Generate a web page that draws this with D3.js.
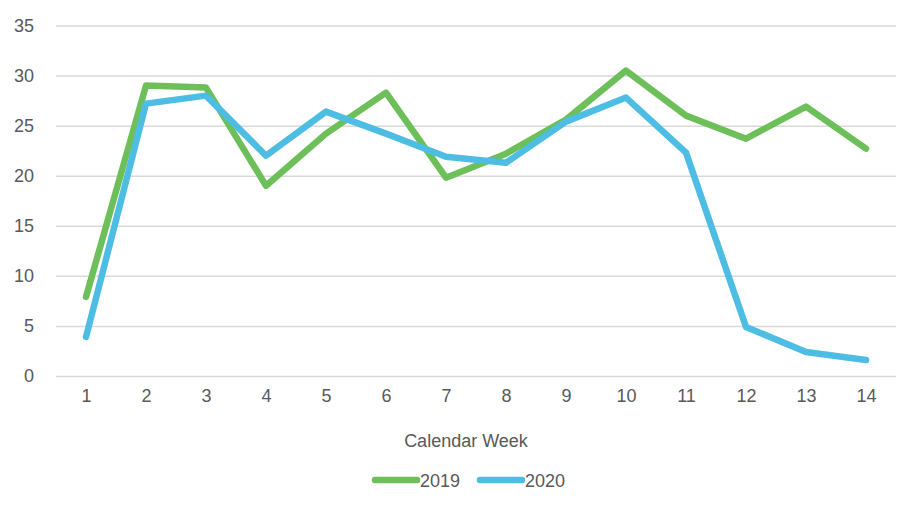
<!DOCTYPE html>
<html>
<head>
<meta charset="utf-8">
<script src="https://cdn.jsdelivr.net/npm/d3@7"></script>
<style>
  body { margin: 0; background: #fff; }
  svg text { font-family: "Liberation Sans", Arial, sans-serif; fill: #595959; }
</style>
</head>
<body>
<div id="wrapper"></div>
<script>
// data
const weeks = [1, 2, 3, 4, 5, 6, 7, 8, 9, 10, 11, 12, 13, 14];
const values2019 = [7.9, 29.0, 28.8, 19.0, 24.2, 28.3, 19.8, 22.2, 25.6, 30.5, 26.0, 23.7, 26.9, 22.7];
const values2020 = [3.9, 27.2, 28.0, 22.0, 26.4, 24.2, 21.9, 21.3, 25.4, 27.8, 22.3, 4.9, 2.4, 1.6];
const yTicks = [0, 5, 10, 15, 20, 25, 30, 35];
const seriesNames = ["2019", "2020"];
const seriesColors = ["#6dbf59", "#4dbde4"];

function drawChart() {
    const dimensions = {
        width: 919,
        height: 508,
        margins: { top: 25.5, right: 23, bottom: 132, left: 56 }
    };
    dimensions.boundedWidth = dimensions.width - dimensions.margins.left - dimensions.margins.right;
    dimensions.boundedHeight = dimensions.height - dimensions.margins.top - dimensions.margins.bottom;

    const svg = d3.select("#wrapper").append("svg")
        .attr("width", dimensions.width)
        .attr("height", dimensions.height);

    const bounds = svg.append("g")
        .attr("transform", `translate(${dimensions.margins.left},${dimensions.margins.top})`);

    const xScale = d3.scalePoint()
        .domain(weeks)
        .range([0, dimensions.boundedWidth])
        .padding(0.5);

    const yScale = d3.scaleLinear()
        .domain([0, 35])
        .range([dimensions.boundedHeight, 0]);

    // gridlines + y labels
    const yAxis = bounds.append("g")
        .call(d3.axisLeft(yScale).tickValues(yTicks).tickSize(-dimensions.boundedWidth).tickPadding(22));
    yAxis.select(".domain").remove();
    yAxis.selectAll(".tick line").attr("stroke", "#d9d9d9").attr("stroke-width", 1.5);
    yAxis.selectAll(".tick text").style("font-size", "18px").attr("fill", "#595959");

    // x labels
    const xAxis = bounds.append("g")
        .attr("transform", `translate(0,${dimensions.boundedHeight})`)
        .call(d3.axisBottom(xScale).tickSize(0).tickPadding(13));
    xAxis.select(".domain").remove();
    xAxis.selectAll(".tick text").style("font-size", "18px").attr("fill", "#595959");

    bounds.append("text")
        .attr("x", 466 - dimensions.margins.left)
        .attr("y", dimensions.boundedHeight + 71)
        .attr("text-anchor", "middle")
        .style("font-size", "18px")
        .text("Calendar Week");

    const lineGenerator = d3.line()
        .x((d, i) => xScale(weeks[i]))
        .y(d => yScale(d));

    [values2019, values2020].forEach((vals, i) => {
        bounds.append("path")
            .attr("d", lineGenerator(vals))
            .attr("fill", "none")
            .attr("stroke", seriesColors[i])
            .attr("stroke-width", 6.5)
            .attr("stroke-linejoin", "round")
            .attr("stroke-linecap", "round");
    });

    // legend
    const legend = svg.append("g").attr("transform", "translate(373,480)");
    seriesNames.forEach((name, i) => {
        const g = legend.append("g").attr("transform", `translate(${i * 105},0)`);
        g.append("line")
            .attr("x1", 2).attr("x2", 44)
            .attr("stroke", seriesColors[i])
            .attr("stroke-width", 6.5)
            .attr("stroke-linecap", "round");
        g.append("text")
            .attr("x", 47)
            .attr("y", 6.5)
            .style("font-size", "18px")
            .text(name);
    });
}

drawChart();
</script>
</body>
</html>
